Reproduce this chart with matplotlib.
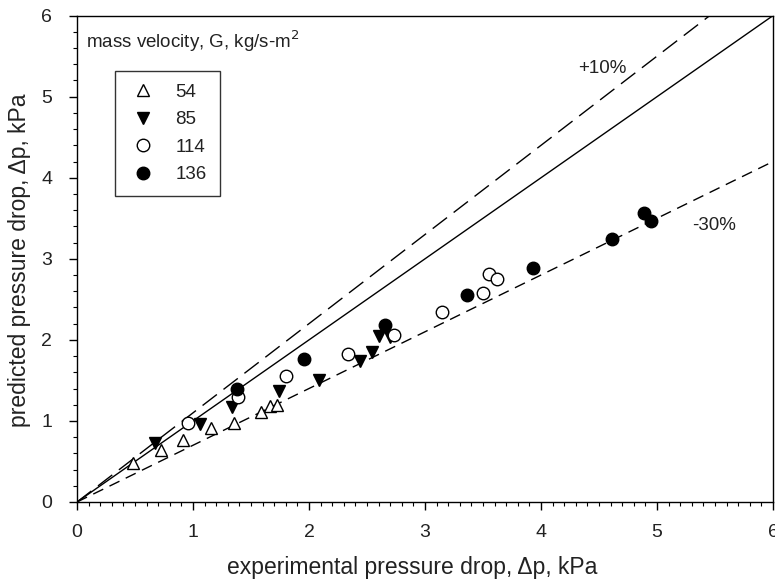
import matplotlib
matplotlib.use("Agg")
import numpy as np
import matplotlib.pyplot as plt
from matplotlib.ticker import MultipleLocator

plt.rcParams['font.family'] = ['Liberation Sans', 'DejaVu Sans']

# --- data ---
g_labels = ["54", "85", "114", "136"]

x54 = [0.48, 0.72, 0.91, 1.155, 1.35, 1.586, 1.66, 1.727]
y54 = [0.485, 0.64, 0.765, 0.91, 0.98, 1.115, 1.185, 1.197]

x85 = [0.672, 1.06, 1.333, 1.744, 2.09, 2.44, 2.54, 2.60, 2.70]
y85 = [0.73, 0.963, 1.17, 1.374, 1.50, 1.74, 1.856, 2.05, 2.03]

x114 = [0.96, 1.39, 1.80, 2.34, 2.73, 3.15, 3.50, 3.55, 3.62]
y114 = [0.97, 1.30, 1.556, 1.83, 2.06, 2.34, 2.58, 2.81, 2.75]

x136 = [1.38, 1.96, 2.655, 3.36, 3.93, 4.61, 4.89, 4.945]
y136 = [1.40, 1.765, 2.185, 2.555, 2.885, 3.24, 3.57, 3.47]

ref_x = [0, 6]
band_plus = 1.10
band_minus = 0.70

fig = plt.figure(figsize=(7.75, 5.79), dpi=100)
ax = fig.add_axes([0.0994, 0.133, 0.898, 0.840])

# --- reference lines ---
ax.plot(ref_x, ref_x, color="black", lw=1.0)
ax.plot(ref_x, [v * band_plus for v in ref_x], color="black", lw=1.0, dashes=(13, 6))
ax.plot(ref_x, [v * band_minus for v in ref_x], color="black", lw=1.0, dashes=(8, 5))

# --- data ---
ms = 9
ax.plot(x54, y54, ls="none", marker="^", ms=ms, mfc="white", mec="black", mew=1.0, label=g_labels[0])
ax.plot(x85, y85, ls="none", marker="v", ms=ms, mfc="black", mec="black", label=g_labels[1])
ax.plot(x114, y114, ls="none", marker="o", ms=ms, mfc="white", mec="black", mew=1.0, label=g_labels[2])
ax.plot(x136, y136, ls="none", marker="o", ms=ms, mfc="black", mec="black", label=g_labels[3])

ax.text(4.53, 5.35, "+10%", fontsize=13.5, ha="center", va="center", color="#222222")
ax.text(5.49, 3.41, "-30%", fontsize=13.5, ha="center", va="center", color="#222222")
ax.text(0.08, 5.68, "mass velocity, G, kg/s-m$^{2}$", fontsize=13.5, ha="left", va="center",
        color="#222222")

leg = ax.legend(loc="upper left", bbox_to_anchor=(0.055, 0.887), borderaxespad=0,
                frameon=True, fancybox=False, edgecolor="black", fontsize=13.5,
                handletextpad=0.9, labelspacing=0.55, borderpad=0.7, handlelength=1.6)
leg.get_frame().set_linewidth(1.0)
for t in leg.get_texts():
    t.set_color("#222222")

ax.set_xlim(0, 6)
ax.set_ylim(0, 6)
ax.xaxis.set_major_locator(MultipleLocator(1))
ax.xaxis.set_minor_locator(MultipleLocator(0.1))
ax.yaxis.set_major_locator(MultipleLocator(1))
ax.yaxis.set_minor_locator(MultipleLocator(0.2))
ax.tick_params(which="major", direction="out", length=6, width=1, labelsize=14,
               labelcolor="#222222")
ax.tick_params(axis="x", which="major", pad=10)
ax.tick_params(axis="y", which="major", pad=12)
ax.tick_params(which="minor", direction="out", length=3, width=0.8)
for sp in ax.spines.values():
    sp.set_linewidth(1.0)

ax.set_xlabel("experimental pressure drop, \u0394p, kPa", fontsize=16.5, color="#222222")
ax.set_ylabel("predicted pressure drop, \u0394p, kPa", fontsize=16.5, color="#222222")
ax.xaxis.set_label_coords(0.481, -0.112)
ax.yaxis.set_label_coords(-0.066, 0.497)

fig.savefig("out.png", dpi=100)
plt.close(fig)
